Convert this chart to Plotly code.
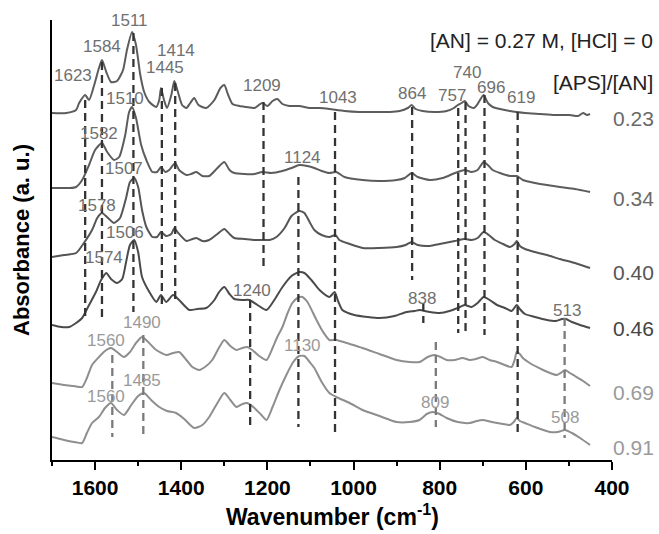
import plotly.graph_objects as go

# ---------------- data ----------------
ratio_labels = ["0.23", "0.34", "0.40", "0.46", "0.69", "0.91"]

wn_023 = [1700,1667,1644,1637,1623,1614,1602,1591,1584,1574,1563,1549,1535,1526,1514,1505,1495,1486,1474,1458,
          1451,1447,1440,1433,1423,1416,1409,1398,1388,1379,1370,1360,1342,1323,1309,1300,1291,1281,1265,1249,
          1230,1212,1200,1188,1177,1165,1149,1126,1102,1079,1056,1021,986,951,916,893,874,865,856,840,
          812,784,767,758,749,742,733,721,712,698,688,677,660,637,621,602,567,533,498,479,467,458,451]
abs_023 = [3.47,3.47,3.50,3.57,3.65,3.60,3.75,3.92,4.00,3.88,3.78,3.79,3.90,4.10,4.28,4.15,3.85,3.68,3.58,3.53,
           3.60,3.72,3.60,3.52,3.65,3.79,3.70,3.55,3.52,3.57,3.62,3.55,3.52,3.60,3.72,3.75,3.65,3.56,3.54,3.53,
           3.52,3.57,3.54,3.59,3.61,3.56,3.54,3.54,3.52,3.52,3.51,3.49,3.48,3.48,3.48,3.49,3.52,3.55,3.51,3.49,
           3.48,3.49,3.52,3.55,3.57,3.59,3.54,3.52,3.56,3.65,3.57,3.53,3.51,3.49,3.48,3.47,3.46,3.45,3.45,3.44,
           3.47,3.45,3.46]

wn_034 = [1700,1660,1644,1630,1614,1600,1584,1572,1556,1544,1530,1521,1514,1505,1493,1481,1467,1456,1447,1437,
          1428,1414,1405,1388,1377,1365,1351,1335,1316,1300,1288,1277,1253,1230,1212,1191,1165,1144,1126,1107,
          1091,1074,1056,1040,1021,979,940,900,881,865,851,823,793,770,758,742,726,712,698,686,
          677,660,637,621,607,579,551,521,486,451]
abs_034 = [2.72,2.72,2.73,2.80,2.95,3.10,3.17,3.08,3.00,3.03,3.25,3.48,3.53,3.42,3.15,3.00,2.88,2.88,2.93,2.88,
           2.90,2.97,2.90,2.85,2.86,2.88,2.84,2.84,2.92,2.98,2.90,2.87,2.86,2.86,2.88,2.87,2.89,2.92,2.95,2.94,
           2.92,2.89,2.87,2.88,2.83,2.80,2.79,2.80,2.82,2.87,2.83,2.80,2.82,2.86,2.88,2.90,2.88,2.90,2.98,2.94,
           2.90,2.87,2.84,2.84,2.80,2.77,2.75,2.73,2.71,2.68]

wn_040 = [1700,1672,1644,1626,1607,1595,1584,1570,1556,1542,1528,1519,1509,1500,1491,1481,1467,1456,1447,1435,
          1423,1416,1407,1388,1374,1365,1351,1335,1316,1300,1288,1277,1253,1230,1212,1195,1179,1160,1144,1126,
          1114,1102,1091,1074,1056,1042,1033,1009,979,940,900,879,865,851,823,800,765,742,726,712,
          698,686,672,653,637,626,621,614,602,579,551,521,486,451]
abs_040 = [2.03,2.05,2.07,2.17,2.30,2.42,2.47,2.42,2.37,2.42,2.62,2.78,2.82,2.73,2.50,2.33,2.23,2.23,2.28,2.24,
           2.26,2.32,2.27,2.19,2.21,2.22,2.19,2.20,2.26,2.31,2.26,2.22,2.21,2.20,2.20,2.20,2.23,2.32,2.44,2.49,
           2.47,2.38,2.30,2.25,2.23,2.25,2.20,2.16,2.12,2.12,2.13,2.15,2.18,2.15,2.14,2.16,2.19,2.21,2.20,2.22,
           2.28,2.25,2.20,2.16,2.13,2.16,2.19,2.14,2.11,2.08,2.05,2.01,1.97,1.92]

wn_046 = [1700,1679,1660,1644,1630,1614,1598,1586,1574,1563,1549,1537,1528,1519,1509,1500,1491,1474,1458,1447,
          1435,1419,1405,1381,1363,1342,1323,1312,1300,1288,1277,1258,1242,1223,1202,1184,1165,1144,1126,1114,
          1098,1079,1056,1044,1035,1026,998,967,940,905,877,858,847,823,800,777,758,742,726,712,
          698,684,667,649,633,621,614,602,579,551,530,516,507,493,474,451]
abs_046 = [1.35,1.33,1.33,1.37,1.42,1.55,1.68,1.80,1.87,1.81,1.77,1.81,1.98,2.15,2.20,2.08,1.83,1.68,1.58,1.65,
           1.58,1.65,1.60,1.50,1.51,1.52,1.60,1.68,1.73,1.66,1.61,1.60,1.60,1.55,1.50,1.60,1.73,1.84,1.88,1.87,
           1.80,1.70,1.63,1.68,1.58,1.50,1.45,1.43,1.42,1.44,1.48,1.49,1.50,1.48,1.47,1.49,1.52,1.55,1.53,1.57,
           1.63,1.60,1.55,1.52,1.49,1.55,1.51,1.46,1.43,1.40,1.39,1.41,1.41,1.38,1.35,1.32]

wn_069 = [1700,1672,1649,1630,1619,1607,1591,1577,1563,1549,1533,1519,1505,1491,1479,1458,1435,1419,1405,1388,
          1374,1358,1342,1328,1314,1300,1286,1272,1258,1247,1235,1219,1202,1188,1177,1165,1153,1142,1130,1119,
          1107,1095,1086,1072,1056,1040,1009,979,940,900,870,847,828,812,798,784,765,747,730,716,
          700,684,667,649,633,626,621,614,607,591,560,544,528,516,509,498,486,467,451]
abs_069 = [0.77,0.75,0.74,0.73,0.82,0.95,1.03,1.09,1.12,1.08,1.03,1.08,1.17,1.23,1.19,1.10,1.05,1.07,1.08,1.00,
           0.93,0.90,0.94,1.00,1.11,1.20,1.14,1.10,1.12,1.13,1.10,1.04,1.00,1.12,1.23,1.33,1.47,1.57,1.62,1.63,
           1.58,1.48,1.40,1.29,1.20,1.20,1.16,1.12,1.06,1.00,0.98,0.98,1.03,1.05,1.03,1.00,1.00,1.02,1.00,1.01,
           1.03,1.00,0.98,0.95,0.93,1.00,1.08,1.06,1.02,0.97,0.90,0.87,0.85,0.88,0.90,0.87,0.84,0.79,0.74]

wn_091 = [1700,1672,1649,1630,1619,1607,1591,1577,1563,1549,1533,1516,1500,1486,1470,1451,1433,1412,1393,1370,
          1351,1335,1316,1300,1286,1272,1258,1247,1230,1214,1202,1188,1172,1156,1140,1126,1114,1102,1091,1074,
          1056,1040,1009,979,940,900,870,847,830,816,800,784,758,730,714,700,679,653,637,628,
          621,614,602,579,544,526,509,493,474,451]
abs_091 = [0.23,0.20,0.18,0.17,0.27,0.37,0.43,0.52,0.57,0.50,0.45,0.55,0.64,0.67,0.60,0.53,0.49,0.47,0.41,0.32,
           0.35,0.43,0.57,0.67,0.60,0.53,0.56,0.57,0.52,0.45,0.40,0.53,0.70,0.85,0.98,1.04,1.04,0.98,0.92,0.78,
           0.67,0.63,0.57,0.50,0.44,0.38,0.38,0.40,0.46,0.48,0.46,0.42,0.38,0.37,0.39,0.40,0.38,0.36,0.35,0.38,
           0.42,0.39,0.37,0.33,0.28,0.28,0.30,0.27,0.22,0.15]

spectra_wn = [wn_023, wn_034, wn_040, wn_046, wn_069, wn_091]
spectra_abs = [abs_023, abs_034, abs_040, abs_046, abs_069, abs_091]
ratio_label_abs = [3.42, 2.62, 1.88, 1.32, 0.68, 0.13]

# vertical guide lines at assigned bands
guide_wn = [1623, 1584, 1511, 1445, 1414, 1209, 1043, 864, 838, 757, 740, 696, 619, 1240, 1128,
            1560, 1488, 809, 510]
guide_top = [3.60, 3.98, 4.27, 3.72, 3.77, 3.58, 3.48, 3.53, 1.57, 3.52, 3.58, 3.65, 3.48, 1.60, 2.83,
             1.05, 1.25, 1.18, 1.42]
guide_bottom = [1.40, 1.38, 1.48, 1.53, 1.58, 1.90, 0.27, 1.80, 1.37, 1.27, 1.27, 1.25, 0.25, 0.33, 0.33,
                0.23, 0.23, 0.33, 0.22]

# peak labels
peak_text = ["1511", "1584", "1414", "1445", "1623", "1510", "1209", "1043", "864", "757", "740", "696", "619",
             "1582", "1507", "1124", "1578", "1506", "1574", "1240", "838", "513",
             "1490", "1560", "1130", "1485", "1560", "809", "508"]
peak_wn = [1519, 1584, 1412, 1437, 1651, 1530, 1212, 1037, 865, 772, 737, 681, 612,
           1591, 1533, 1119, 1595, 1530, 1579, 1235, 840, 505,
           1491, 1574, 1119, 1491, 1574, 812, 509]
peak_abs = [4.40, 4.14, 4.10, 3.93, 3.85, 3.62, 3.75, 3.63, 3.67, 3.65, 3.88, 3.73, 3.63,
            3.27, 2.92, 3.03, 2.55, 2.28, 2.03, 1.70, 1.62, 1.50,
            1.38, 1.20, 1.15, 0.80, 0.64, 0.58, 0.43]

x_ticks = [1600, 1400, 1200, 1000, 800, 600, 400]
x_title = "Wavenumber (cm<sup>-1</sup>)"
y_title = "Absorbance (a. u.)"

# ---------------- styles ----------------
FONT = "Liberation Sans, Arial, sans-serif"
curve_colors = ["#5c5c5c", "#5c5c5c", "#555555", "#4a4a4a", "#8e8e8e", "#8e8e8e"]
ratio_colors = ["#6a6a6a", "#6a6a6a", "#555555", "#444444", "#9a9a9a", "#9a9a9a"]
guide_light_from = 15          # guides from this index on are the light ones
label_light_from = 22          # labels from this index on are the light ones

fig = go.Figure()

for wn, ab, col in zip(spectra_wn, spectra_abs, curve_colors):
    fig.add_trace(go.Scatter(x=wn, y=ab, mode="lines",
                             line=dict(color=col, width=2, shape="spline", smoothing=0.6),
                             hoverinfo="skip", showlegend=False))

dark_x, dark_y, light_x, light_y = [], [], [], []
for i, (w, t, b) in enumerate(zip(guide_wn, guide_top, guide_bottom)):
    if i < guide_light_from:
        dark_x += [w, w, None]; dark_y += [t, b, None]
    else:
        light_x += [w, w, None]; light_y += [t, b, None]
fig.add_trace(go.Scatter(x=dark_x, y=dark_y, mode="lines",
                         line=dict(color="#333333", width=2.3, dash="8px,5px"),
                         hoverinfo="skip", showlegend=False))
fig.add_trace(go.Scatter(x=light_x, y=light_y, mode="lines",
                         line=dict(color="#7a7a7a", width=2.3, dash="8px,5px"),
                         hoverinfo="skip", showlegend=False))

annotations = []
for i, (t, w, a) in enumerate(zip(peak_text, peak_wn, peak_abs)):
    annotations.append(dict(x=w, y=a, xref="x", yref="y", text=t, showarrow=False,
                            xanchor="center", yanchor="middle",
                            font=dict(family=FONT, size=17,
                                      color="#9a9a9a" if i >= label_light_from else "#707070")))

for t, a, c in zip(ratio_labels, ratio_label_abs, ratio_colors):
    annotations.append(dict(x=1.0375, y=a, xref="paper", yref="y", text=t, showarrow=False,
                            xanchor="center", yanchor="middle",
                            font=dict(family=FONT, size=21, color=c)))

annotations.append(dict(x=1.077, y=4.20, xref="paper", yref="y",
                        text="[AN] = 0.27 M, [HCl] = 0", showarrow=False,
                        xanchor="right", yanchor="middle",
                        font=dict(family=FONT, size=21, color="#222222")))
annotations.append(dict(x=1.077, y=3.78, xref="paper", yref="y",
                        text="[APS]/[AN]", showarrow=False,
                        xanchor="right", yanchor="middle",
                        font=dict(family=FONT, size=21, color="#222222")))
# x-axis title placed as an annotation for exact vertical placement
annotations.append(dict(x=0.5, y=-0.163, xref="paper", yref="paper", text=x_title,
                        showarrow=False, xanchor="center", yanchor="bottom",
                        font=dict(family=FONT, size=23, color="black", weight="bold")))

fig.update_layout(
    width=659, height=534,
    margin=dict(l=52, r=47, t=20, b=74),
    paper_bgcolor="white", plot_bgcolor="white",
    annotations=annotations,
    font=dict(family=FONT, color="black"),
)

fig.update_xaxes(
    range=[1700, 400], tickvals=x_ticks, ticktext=[str(v) for v in x_ticks],
    showline=True, linecolor="black", linewidth=2, mirror=False,
    ticks="outside", ticklen=8, tickwidth=2, tickcolor="black",
    minor=dict(dtick=100, tick0=0, ticks="outside", ticklen=4, tickwidth=2, tickcolor="black"),
    showgrid=False, zeroline=False,
    tickfont=dict(family=FONT, size=21, color="black", weight="bold"),
)
fig.update_yaxes(
    range=[0, 4.4], showline=True, linecolor="black", linewidth=2,
    showticklabels=False, ticks="", showgrid=False, zeroline=False,
    title=dict(text=y_title, standoff=14,
               font=dict(family=FONT, size=22, color="black", weight="bold")),
)

fig.write_html("out.html", config={"displayModeBar": False},
               post_script="document.body.style.margin='0px';")
